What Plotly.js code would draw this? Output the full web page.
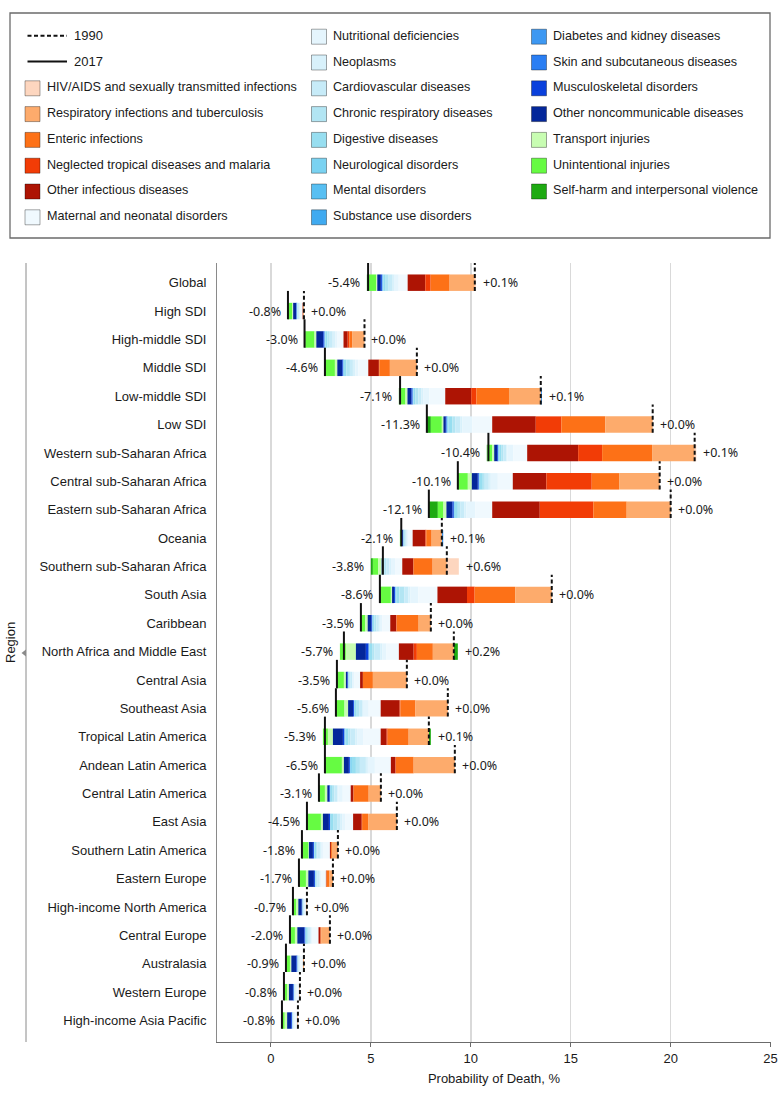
<!DOCTYPE html>
<html><head><meta charset="utf-8">
<script src="https://cdn.plot.ly/plotly-3.0.1.min.js"></script>
<style>html,body{margin:0;padding:0;background:#fff}</style>
</head><body><div id="chart" style="width:780px;height:1097px"></div>
<script>
// ---------------- DATA ----------------
const regions = ["Global","High SDI","High-middle SDI","Middle SDI","Low-middle SDI","Low SDI",
  "Western sub-Saharan Africa","Central sub-Saharan Africa","Eastern sub-Saharan Africa","Oceania",
  "Southern sub-Saharan Africa","South Asia","Caribbean","North Africa and Middle East","Central Asia",
  "Southeast Asia","Tropical Latin America","Andean Latin America","Central Latin America","East Asia",
  "Southern Latin America","Eastern Europe","High-income North America","Central Europe","Australasia",
  "Western Europe","High-income Asia Pacific"];

// probability of death in 1990 (%)
const p1990 = [10.2,1.65,4.68,7.3,13.5,19.1,21.2,19.45,20.0,8.55,8.8,14.05,8.0,9.15,6.8,8.85,7.9,9.2,5.5,6.3,3.35,3.1,1.8,2.95,1.65,1.45,1.35];

// change 1990 -> 2017 by cause (percentage points; negative = decrease)
const hivSTI            = [0.06,0,0,0,0,0,0.08,0,0,0,0.6,0,0,0,0,0,0,0,0,0,0,0,0,0,0,0,0];
const respTB            = [-1.26,-0.05,-0.62,-1.35,-1.59,-2.37,-2.13,-2.03,-2.2,-0.51,-0.71,-1.83,-0.61,-1.05,-1.7,-1.62,-1.01,-2.06,-0.61,-1.44,-0.3,-0.17,-0.03,-0.42,-0.05,-0.03,-0.03];
const enteric           = [-0.95,0,-0.14,-0.53,-1.63,-2.2,-2.5,-1.37,-1.67,-0.27,-0.96,-2.03,-1.1,-0.8,-0.5,-0.75,-1.05,-0.89,-0.76,-0.3,-0.05,-0.15,0,-0.05,0,0,0];
const ntdMalaria        = [-0.27,0,-0.08,-0.02,-0.26,-1.28,-1.2,-2.27,-2.68,-0.04,0,-0.38,-0.02,-0.16,0,-0.04,-0.05,-0.02,0,-0.02,0,0,0,0,0,0,0];
const otherInfectious   = [-0.88,-0.02,-0.21,-0.53,-1.3,-2.18,-2.55,-1.68,-2.38,-0.64,-0.56,-1.48,-0.3,-0.74,-0.14,-0.95,-0.3,-0.23,-0.14,-0.43,-0.05,-0.03,0,-0.1,0,0,0];
const maternalNeonatal  = [-0.45,-0.1,-0.3,-0.5,-0.79,-1.0,-0.7,-0.75,-0.85,-0.2,-0.36,-0.95,-0.4,-0.62,-0.3,-0.6,-0.88,-0.8,-0.4,-0.4,-0.35,-0.25,-0.07,-0.3,-0.13,-0.13,-0.13];
const nutritional       = [-0.2,-0.01,-0.12,-0.15,-0.3,-0.5,-0.3,-0.35,-0.45,-0.08,-0.2,-0.4,-0.12,-0.2,-0.07,-0.25,-0.3,-0.35,-0.22,-0.15,-0.1,-0.05,-0.01,-0.05,-0.01,-0.01,-0.01];
const neoplasms         = [-0.1,-0.06,-0.12,-0.12,-0.1,-0.1,-0.05,-0.1,-0.1,-0.02,-0.08,-0.1,-0.05,-0.1,-0.03,-0.08,-0.08,-0.1,-0.05,-0.1,-0.05,-0.05,-0.04,-0.08,-0.05,-0.06,-0.05];
const cardiovascular    = [-0.2,-0.06,-0.15,-0.15,-0.15,-0.25,-0.15,-0.2,-0.2,-0.05,-0.15,-0.2,-0.12,-0.3,-0.08,-0.15,-0.25,-0.3,-0.15,-0.15,-0.12,-0.08,-0.04,-0.1,-0.05,-0.04,-0.03];
const chronicRespiratory= [-0.15,-0.02,-0.12,-0.18,-0.15,-0.15,-0.1,-0.1,-0.12,-0.05,-0.1,-0.25,-0.1,-0.12,-0.05,-0.12,-0.1,-0.2,-0.08,-0.2,-0.07,-0.05,-0.02,-0.05,-0.02,-0.02,-0.02];
const digestive         = [-0.12,-0.02,-0.1,-0.12,-0.1,-0.2,-0.1,-0.15,-0.15,-0.05,-0.08,-0.15,-0.08,-0.12,-0.05,-0.1,-0.15,-0.2,-0.1,-0.12,-0.08,-0.05,-0.01,-0.06,-0.01,-0.01,-0.01];
const neurological      = [-0.03,-0.02,-0.03,-0.03,-0.03,-0.05,-0.05,-0.05,-0.05,-0.02,-0.03,-0.05,-0.03,-0.05,-0.02,-0.03,-0.05,-0.08,-0.03,-0.03,-0.03,-0.02,-0.01,-0.02,-0.01,-0.01,-0.01];
const mental            = [0,0,0,0,0,0,0,0,0,0,0,0,0,0,0,0,0,0,0,0,0,0,0,0,0,0,0];
const substanceUse      = [0,0,0,0,0,0,0,0,0,0,0,0,0,0,0,0,0,0,0,0,0,0,0,0,0,0,0];
const diabetesKidney    = [-0.02,0,0,0,0.06,-0.02,0,0,0,0.07,0,-0.02,0,0,0,0,0,-0.02,0,0,0,0,0,0,0,0,0];
const skin              = [-0.02,0,-0.02,0,-0.02,-0.02,0,0,0,0,0,0,0,0,0,0,0,0,0,0,0,0,0,0,0,0,0];
const musculoskeletal   = [-0.05,-0.03,-0.05,-0.05,-0.05,-0.03,-0.05,-0.05,-0.07,-0.02,0,-0.05,-0.05,-0.14,-0.03,-0.05,-0.08,-0.05,-0.04,-0.06,-0.05,-0.05,-0.03,-0.05,-0.05,-0.04,-0.05];
const otherNCD          = [-0.18,-0.15,-0.35,-0.25,-0.2,-0.12,-0.15,-0.3,-0.3,-0.08,-0.03,-0.1,-0.18,-0.5,-0.08,-0.25,-0.5,-0.25,-0.1,-0.3,-0.2,-0.28,-0.17,-0.35,-0.25,-0.2,-0.2];
const transport         = [-0.05,-0.05,-0.09,-0.12,-0.1,-0.08,-0.1,-0.2,-0.15,-0.02,-0.17,-0.06,-0.12,-0.5,-0.1,-0.18,-0.25,-0.1,-0.12,-0.1,-0.02,-0.12,-0.1,-0.12,-0.07,-0.08,-0.12];
const unintentional     = [-0.42,-0.21,-0.45,-0.45,-0.3,-0.55,-0.25,-0.45,-0.28,-0.05,-0.27,-0.5,-0.2,-0.3,-0.3,-0.38,-0.25,-0.8,-0.25,-0.65,-0.3,-0.3,-0.15,-0.22,-0.18,-0.15,-0.12];
const selfHarm          = [-0.05,0,-0.05,-0.05,-0.03,-0.2,-0.02,-0.05,-0.45,0,-0.1,-0.05,-0.02,0.2,-0.05,-0.05,0.1,-0.05,-0.05,-0.05,-0.03,-0.05,-0.02,-0.03,-0.02,-0.02,-0.02];

// causes in legend order
const causes = [
  {name:"HIV/AIDS and sexually transmitted infections", color:"#fdd6bf", values:hivSTI},
  {name:"Respiratory infections and tuberculosis", color:"#fdab6c", values:respTB},
  {name:"Enteric infections", color:"#fd7117", values:enteric},
  {name:"Neglected tropical diseases and malaria", color:"#f23c06", values:ntdMalaria},
  {name:"Other infectious diseases", color:"#ad1404", values:otherInfectious},
  {name:"Maternal and neonatal disorders", color:"#f0f9fe", values:maternalNeonatal},
  {name:"Nutritional deficiencies", color:"#e5f5fd", values:nutritional},
  {name:"Neoplasms", color:"#d8f1fb", values:neoplasms},
  {name:"Cardiovascular diseases", color:"#c7ebf8", values:cardiovascular},
  {name:"Chronic respiratory diseases", color:"#b2e5f3", values:chronicRespiratory},
  {name:"Digestive diseases", color:"#97def0", values:digestive},
  {name:"Neurological disorders", color:"#7ad2f1", values:neurological},
  {name:"Mental disorders", color:"#58bff2", values:mental},
  {name:"Substance use disorders", color:"#40aaf0", values:substanceUse},
  {name:"Diabetes and kidney diseases", color:"#3d98f2", values:diabetesKidney},
  {name:"Skin and subcutaneous diseases", color:"#2a7ef3", values:skin},
  {name:"Musculoskeletal disorders", color:"#0a40dc", values:musculoskeletal},
  {name:"Other noncommunicable diseases", color:"#04279a", values:otherNCD},
  {name:"Transport injuries", color:"#c8fdb2", values:transport},
  {name:"Unintentional injuries", color:"#66fb42", values:unintentional},
  {name:"Self-harm and interpersonal violence", color:"#1eaa12", values:selfHarm}
];
const xTicks = [0,5,10,15,20,25];

// ---------------- BUILD ----------------
const FONT = "Liberation Sans, Arial, sans-serif";
const NUMFONT = "Noto Sans, Open Sans, sans-serif";
const TXT = "#1a1a1a";
const n = regions.length;
const idx = regions.map((_, i) => i);
const BARW = 0.58;

const decTotal = idx.map(r => causes.reduce((s, c) => s + (c.values[r] < 0 ? -c.values[r] : 0), 0));
const incTotal = idx.map(r => causes.reduce((s, c) => s + (c.values[r] > 0 ? c.values[r] : 0), 0));
const decStart = idx.map(r => p1990[r] - decTotal[r]);
const p2017 = idx.map(r => p1990[r] - decTotal[r] + incTotal[r]);
const decCursor = decStart.slice();
const incCursor = p1990.slice();

const traces = [];
for (let ci = causes.length - 1; ci >= 0; ci--) {
  const c = causes[ci];
  const base = [], len = [];
  for (let r = 0; r < n; r++) {
    const v = c.values[r];
    if (v < 0) { base.push(decCursor[r]); len.push(-v); decCursor[r] += -v; }
    else { base.push(incCursor[r]); len.push(v); incCursor[r] += v; }
  }
  traces.push({type:"bar", orientation:"h", y:idx, x:len, base:base, width:BARW,
    marker:{color:c.color, line:{width:0}}, name:c.name, showlegend:false, hoverinfo:"skip"});
}

function vLines(vals) {
  const xs = [], ys = [];
  vals.forEach((v, r) => { xs.push(v, v, null); ys.push(r + BARW/2, r + BARW/2 - 1, null); });
  return {xs, ys};
}
const l90 = vLines(p1990), l17 = vLines(p2017);
traces.push({type:"scatter", mode:"lines", x:l90.xs, y:l90.ys, line:{color:"#111", width:2, dash:"4px,2.5px"}, showlegend:false, hoverinfo:"skip"});
traces.push({type:"scatter", mode:"lines", x:l17.xs, y:l17.ys, line:{color:"#111", width:2}, showlegend:false, hoverinfo:"skip"});

// ---------------- LAYOUT HELPERS (pixel -> paper) ----------------
const PL = 217, PR = 771, PT = 263, PB = 1042;
const px = x => (x - PL) / (PR - PL);
const py = y => (PB - y) / (PB - PT);

const annotations = [];
const shapes = [];
const fmt = v => (Math.round(v * 10) / 10).toFixed(1);
for (let r = 0; r < n; r++) {
  annotations.push({x:decStart[r], y:r, xref:"x", yref:"y", text:"-" + fmt(decTotal[r]) + "%", showarrow:false,
    xanchor:"right", yanchor:"middle", xshift:-5, font:{family:NUMFONT, size:12.5, color:TXT}});
  annotations.push({x:Math.max(p1990[r], p1990[r] + incTotal[r]), y:r, xref:"x", yref:"y", text:"+" + fmt(incTotal[r]) + "%", showarrow:false,
    xanchor:"left", yanchor:"middle", xshift:5, font:{family:NUMFONT, size:12.5, color:TXT}});
}

// legend box
shapes.push({type:"rect", xref:"paper", yref:"paper", x0:px(10), x1:px(770), y0:py(238), y1:py(13),
  line:{color:"#6b6b6b", width:1.3}, fillcolor:"rgba(0,0,0,0)"});
const rowY = k => 35.7 + k * 25.8;
const legendCols = [
  {sx:25, tx:45, items:["1990","2017"].concat(causes.slice(0,6).map(c => c.name))},
  {sx:311.5, tx:331, items:causes.slice(6,14).map(c => c.name)},
  {sx:531.5, tx:551, items:causes.slice(14).map(c => c.name)}
];
legendCols.forEach(col => {
  col.items.forEach((name, k) => {
    const y = rowY(k);
    if (name === "1990" || name === "2017") {
      shapes.push({type:"line", xref:"paper", yref:"paper", x0:px(27.5), x1:px(67), y0:py(y), y1:py(y),
        line:{color:"#111", width:2, dash: name === "1990" ? "4px,2.5px" : "solid"}});
      annotations.push({x:px(72), y:py(y), xref:"paper", yref:"paper", text:name, showarrow:false,
        xanchor:"left", yanchor:"middle", font:{family:FONT, size:13, color:TXT}});
    } else {
      const c = causes.find(cc => cc.name === name);
      shapes.push({type:"rect", xref:"paper", yref:"paper", x0:px(col.sx), x1:px(col.sx + 15), y0:py(y + 8.5), y1:py(y - 6.5),
        fillcolor:c.color, line:{color:"rgba(0,0,0,0.35)", width:1}});
      annotations.push({x:px(col.tx), y:py(y), xref:"paper", yref:"paper", text:name, showarrow:false,
        xanchor:"left", yanchor:"middle", font:{family:FONT, size:12.6, color:TXT}});
    }
  });
});

// Region side label with bracket line and pointer
shapes.push({type:"line", xref:"paper", yref:"paper", x0:px(26), x1:px(26), y0:0, y1:1, line:{color:"#8a8a8a", width:1}});
shapes.push({type:"path", xref:"paper", yref:"paper",
  path:`M ${px(26)},${py(649.5)} L ${px(21.5)},${py(653)} L ${px(26)},${py(656.5)} Z`, fillcolor:"#8a8a8a", line:{width:0}});
annotations.push({x:px(10), y:py(643), xref:"paper", yref:"paper", text:"Region", textangle:-90, showarrow:false,
  xanchor:"center", yanchor:"middle", font:{family:FONT, size:13, color:TXT}});

const layout = {
  width:780, height:1097,
  margin:{l:PL, r:780 - PR, t:PT, b:1097 - PB, pad:0},
  paper_bgcolor:"#fff", plot_bgcolor:"#fff",
  barmode:"overlay",
  showlegend:false,
  xaxis:{range:[-2.7, 25.02], tickvals:xTicks, ticktext:xTicks.map(String), showgrid:true, gridcolor:"#d9d9d9", gridwidth:1.5,
    zeroline:false, showline:true, linecolor:"#6b6b6b", linewidth:1.3, ticks:"outside", ticklen:4, tickcolor:"#6b6b6b", tickwidth:1,
    tickfont:{family:FONT, size:13, color:TXT}, fixedrange:true,
    title:{text:"Probability of Death, %", font:{family:FONT, size:13, color:TXT}, standoff:9}},
  yaxis:{range:[26.756, -0.694], tickvals:idx, ticktext:regions, showgrid:false, zeroline:false, showline:true,
    linecolor:"#8a8a8a", linewidth:1, ticks:"", ticklabelstandoff:7, tickfont:{family:FONT, size:13, color:TXT}, fixedrange:true},
  shapes:shapes,
  annotations:annotations
};

Plotly.newPlot("chart", traces, layout, {displayModeBar:false, staticPlot:true});
</script></body></html>
